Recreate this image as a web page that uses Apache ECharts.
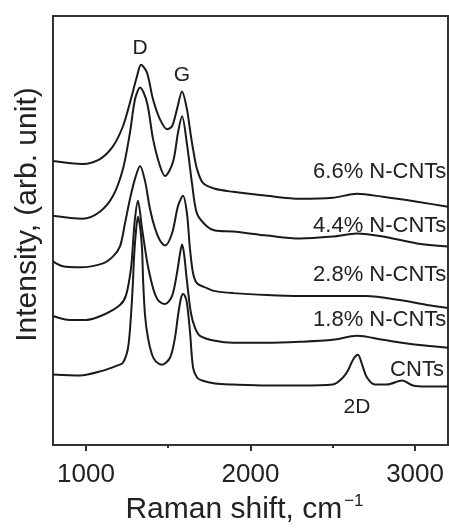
<!DOCTYPE html>
<html>
<head>
<meta charset="utf-8">
<script src="https://cdn.jsdelivr.net/npm/echarts@6/dist/echarts.min.js"></script>
<style>
  html, body { margin: 0; padding: 0; background: #fff; }
  #chart { width: 449px; height: 530px; }
</style>
</head>
<body>
<div id="chart"></div>
<script>
// Raman spectra, [shift cm-1, intensity arb.]
var cnt66 = [[800,286],[980,283],[1085,288],[1165,301],[1225,321],[1268,345],[1310,371],[1335,383],[1371,375],[1408,348],[1450,328],[1493,318],[1523,321],[1553,338],[1584,356],[1614,338],[1632,318],[1651,298],[1675,278],[1711,264],[1784,258],[1894,255],[2100,251],[2300,248],[2500,249],[2647,253],[2805,250],[3012,245],[3200,240]];
var cnt44 = [[800,231],[980,228],[1085,235],[1165,251],[1225,278],[1268,315],[1298,348],[1329,360],[1371,345],[1408,308],[1450,281],[1481,271],[1529,285],[1560,315],[1584,331],[1614,303],[1645,263],[1675,233],[1736,220],[1784,216],[1894,215],[2100,211],[2300,208],[2500,210],[2647,213],[2805,210],[3012,203],[3200,200]];
var cnt28 = [[800,185],[860,180],[965,179],[1104,183],[1165,190],[1207,200],[1237,223],[1268,248],[1298,268],[1329,281],[1359,266],[1389,238],[1420,218],[1450,206],[1481,201],[1523,213],[1560,241],[1590,251],[1614,233],[1632,198],[1651,173],[1675,163],[1736,158],[1784,155],[1894,153],[2100,151],[2300,150],[2500,150],[2700,150],[2908,146],[3072,141],[3200,138]];
var cnt18 = [[800,130],[903,126],[1000,126],[1104,131],[1207,141],[1244,151],[1274,178],[1286,203],[1298,228],[1316,246],[1341,218],[1359,198],[1377,180],[1408,158],[1438,146],[1481,142],[1523,150],[1553,173],[1572,193],[1584,202],[1596,193],[1614,165],[1638,133],[1663,118],[1693,110],[1784,105],[1894,103],[2100,103],[2300,104],[2500,106],[2647,110],[2805,106],[3012,101],[3200,98]];
var cnt0 = [[800,71],[965,70],[1104,75],[1189,80],[1225,83],[1256,98],[1274,131],[1286,165],[1292,188],[1304,215],[1316,230],[1329,220],[1341,198],[1347,168],[1359,131],[1377,108],[1402,91],[1426,84],[1462,81],[1511,88],[1541,108],[1560,131],[1578,148],[1590,152],[1602,150],[1614,143],[1632,115],[1651,78],[1675,68],[1705,65],[1784,62],[1894,61],[2100,60],[2300,60],[2500,61],[2562,68],[2592,75],[2623,86],[2653,91],[2678,81],[2708,68],[2756,61],[2829,61],[2921,65],[2987,60],[3072,59],[3200,59]];

var seriesNames = ['6.6% N-CNTs', '4.4% N-CNTs', '2.8% N-CNTs', '1.8% N-CNTs', 'CNTs'];
var seriesData = [cnt66, cnt44, cnt28, cnt18, cnt0];
var nameLabelY = [275, 221, 171, 126, 76];
var nameLabelX = [3190, 3190, 3190, 3190, 3175];

// peak labels
var peakNames = ['D', 'G', '2D'];
var peakX = [1329, 1584, 2647];
var peakY = [400, 372, 38];

var xMajorTicks = [1000, 2000, 3000];
var xMinorTicks = [1500, 2500];

var font = '"Liberation Sans", Arial, Helvetica, sans-serif';
var ink = '#222';

var series = [];
for (var i = 0; i < seriesData.length; i++) {
  series.push({
    name: seriesNames[i],
    type: 'line',
    data: seriesData[i],
    showSymbol: false,
    smooth: 0.3,
    lineStyle: { color: '#1a1a1a', width: 2 },
    silent: true,
    markPoint: {
      symbol: 'circle',
      symbolSize: 0,
      silent: true,
      label: {
        show: true, position: 'inside', align: 'right', verticalAlign: 'middle',
        fontFamily: font, fontSize: 22, color: ink,
        formatter: seriesNames[i]
      },
      data: [{ coord: [nameLabelX[i], nameLabelY[i]] }]
    }
  });
}

// peak annotations on a helper series
var peakMarks = [];
for (var j = 0; j < peakNames.length; j++) {
  peakMarks.push({ coord: [peakX[j], peakY[j]], label: { formatter: peakNames[j] } });
}
series.push({
  type: 'line',
  data: [],
  markPoint: {
    symbol: 'circle',
    symbolSize: 0,
    silent: true,
    label: {
      show: true, position: 'inside', align: 'center', verticalAlign: 'middle',
      fontFamily: font, fontSize: 21, color: ink
    },
    data: peakMarks
  }
});

var option = {
  animation: false,
  backgroundColor: '#fff',
  grid: {
    left: 53, right: 1, top: 16, bottom: 82,
    show: true, borderColor: '#333', borderWidth: 2, backgroundColor: 'transparent'
  },
  xAxis: [{
    type: 'value', min: 800, max: 3200,
    name: '{a|Raman shift, cm}{s|−1}',
    nameLocation: 'middle', nameGap: 36,
    nameTextStyle: {
      padding: [0, 12, 0, 0],
      rich: {
        a: { fontFamily: font, fontSize: 30, color: ink, lineHeight: 34 },
        s: { fontFamily: font, fontSize: 17, color: ink, verticalAlign: 'top', lineHeight: 34, padding: [0, 0, 12, 2] }
      }
    },
    axisLine: { show: true, lineStyle: { color: '#333', width: 2 } },
    axisTick: { show: true, inside: false, length: 6, lineStyle: { color: '#333', width: 2 }, customValues: xMajorTicks },
    axisLabel: {
      fontFamily: font, fontSize: 26, color: ink, margin: 17, customValues: xMajorTicks,
      formatter: function (v) { return String(v); }
    },
    splitLine: { show: false }
  }, {
    type: 'value', min: 800, max: 3200, position: 'bottom', gridIndex: 0,
    axisLine: { show: false },
    axisTick: { show: true, inside: false, length: 3, lineStyle: { color: '#333', width: 2 }, customValues: xMinorTicks },
    axisLabel: { show: false },
    splitLine: { show: false }
  }],
  yAxis: {
    type: 'value', min: 0, max: 432,
    name: 'Intensity, (arb. unit)',
    nameLocation: 'middle', nameGap: 10,
    nameTextStyle: { fontFamily: font, fontSize: 30, color: ink, padding: [0, 0, 0, 32] },
    axisLine: { show: true, lineStyle: { color: '#333', width: 2 } },
    axisTick: { show: false },
    axisLabel: { show: false },
    splitLine: { show: false }
  },
  series: series
};

var myChart = echarts.init(document.getElementById('chart'));
myChart.setOption(option);
</script>
</body>
</html>
